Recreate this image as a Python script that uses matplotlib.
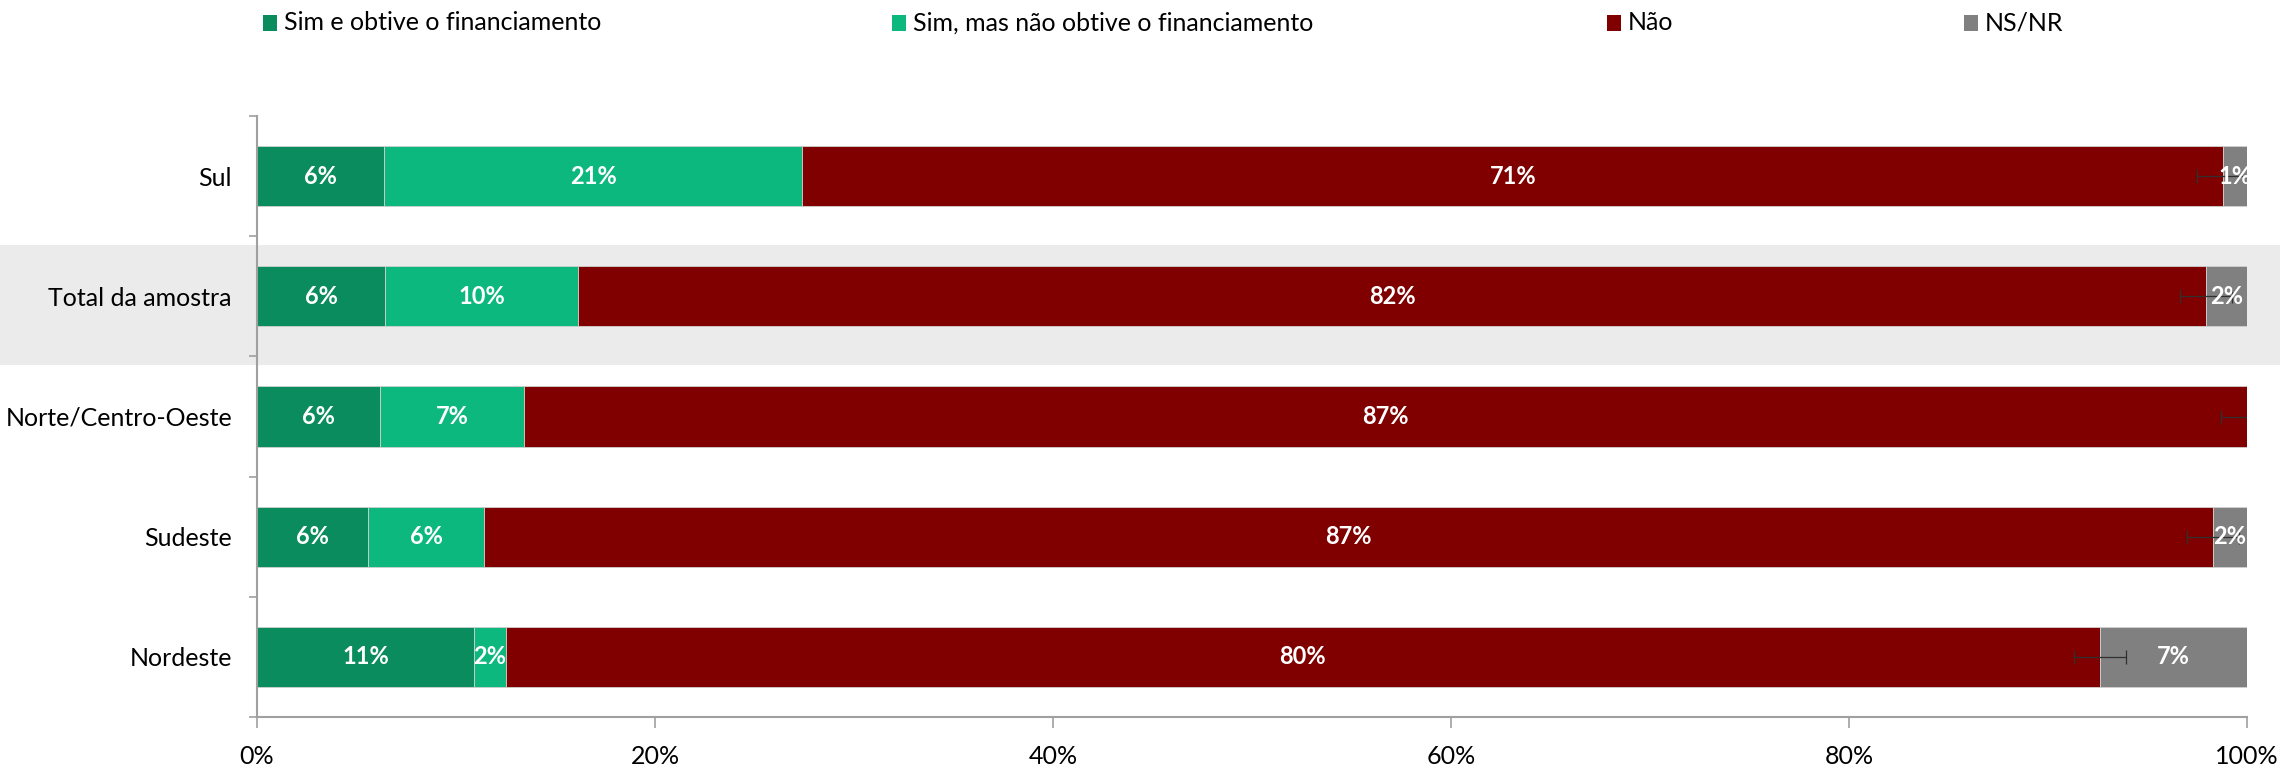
import matplotlib
matplotlib.use("Agg")
import matplotlib.pyplot as plt
import matplotlib.transforms as mtransforms
from matplotlib.patches import Rectangle
import numpy as np

plt.rcParams['font.family'] = ['Lato', 'DejaVu Sans']

categorias = ["Sul", "Total da amostra", "Norte/Centro-Oeste", "Sudeste", "Nordeste"]
series = ["Sim e obtive o financiamento", "Sim, mas não obtive o financiamento", "Não", "NS/NR"]
sim_obtive = [6.4, 6.45, 6.2, 5.6, 10.9]
sim_nao_obtive = [21.0, 9.7, 7.2, 5.8, 1.6]
nao = [71.4, 81.8, 86.6, 86.9, 80.1]
ns_nr = [1.2, 2.05, 0.0, 1.7, 7.4]
erro_nao = [1.3, 1.3, 1.3, 1.3, 1.3]
xticks = [0, 20, 40, 60, 80, 100]
xticklabels = ["0%", "20%", "40%", "60%", "80%", "100%"]

cores = ["#0a8c5f", "#0cb87d", "#800000", "#808080"]

fig = plt.figure(figsize=(22.8, 7.66), dpi=100)
ax = fig.add_axes([257/2280, 1-717/766, (2247-257)/2280, (717-116)/766])
ax.set_facecolor("none")
ax.set_zorder(1)

y = np.arange(len(categorias))
valores = [sim_obtive, sim_nao_obtive, nao, ns_nr]
left = np.zeros(len(categorias))
for serie, vals, cor in zip(series, valores, cores):
    vals = np.array(vals)
    ax.barh(y, vals, left=left, height=0.5, color=cor, edgecolor="#d0d0d0",
            linewidth=0.6, label=serie, zorder=2)
    for yi, l, v in zip(y, left, vals):
        if v > 0.5:
            ax.text(l + v/2, yi, f"{v:.0f}%", ha="center", va="center",
                    color="white", fontsize=17, fontweight="bold", zorder=5)
    if serie == "Não":
        fim_nao = left + vals
    left = left + vals

ax.errorbar(fim_nao, y, xerr=erro_nao, fmt="none", ecolor="#303030",
            elinewidth=0.9, capsize=5, capthick=0.9, zorder=3)

ax.set_xlim(0, 100)
ax.set_ylim(len(categorias) - 0.5, -0.5)
ax.set_xticks(xticks)
ax.set_xticklabels(xticklabels, fontsize=18)
ax.set_yticks(y)
ax.set_yticklabels(categorias, fontsize=18)
ax.set_yticks(np.arange(-0.5, len(categorias)), minor=True)
ax.tick_params(axis="y", which="major", length=0, pad=18)
ax.tick_params(axis="y", which="minor", length=6, color="#a0a0a0", width=1.2)
ax.tick_params(axis="x", which="major", length=8, color="#a0a0a0", width=1.2, pad=12)
for s in ["top", "right"]:
    ax.spines[s].set_visible(False)
for s in ["left", "bottom"]:
    ax.spines[s].set_color("#a0a0a0")
    ax.spines[s].set_linewidth(1.5)

# destaque da linha "Total da amostra"
trans = mtransforms.blended_transform_factory(fig.transFigure, ax.transData)
idx = categorias.index("Total da amostra")
fig.patches.append(Rectangle((0, idx - 0.43), 1, 1.0, transform=trans,
                             facecolor="#ebebeb", edgecolor="none", zorder=-1))

# legenda
leg_x = [263, 892, 1607, 1964]
for nome, cor, xp in zip(series, cores, leg_x):
    fig.patches.append(Rectangle((xp/2280, 1-31/766), 14/2280, 16/766,
                                 transform=fig.transFigure, facecolor=cor,
                                 edgecolor="none"))
    fig.text((xp + 21)/2280, 1-23/766, nome, fontsize=18, va="center", ha="left")

fig.savefig("out.png", dpi=100)
